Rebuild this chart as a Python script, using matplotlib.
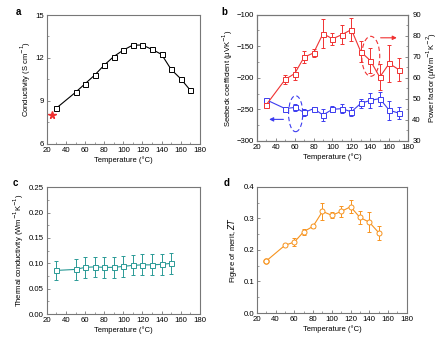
import matplotlib
matplotlib.use('Agg')
import matplotlib.pyplot as plt
from matplotlib.patches import Ellipse
from matplotlib.ticker import AutoMinorLocator

plt.rcParams['font.family'] = ['Liberation Sans', 'DejaVu Sans']
plt.rcParams['font.size'] = 5.6
plt.rcParams['axes.labelsize'] = 5.5
plt.rcParams['axes.edgecolor'] = '#777777'
plt.rcParams['axes.linewidth'] = 0.8
plt.rcParams['xtick.color'] = '#777777'
plt.rcParams['ytick.color'] = '#777777'
plt.rcParams['xtick.labelcolor'] = 'black'
plt.rcParams['ytick.labelcolor'] = 'black'

temp = [30, 50, 60, 70, 80, 90, 100, 110, 120, 130, 140, 150, 160, 170]
temp_short = temp[:12]

# (a) electrical conductivity
sigma = [8.5, 9.6, 10.2, 10.8, 11.5, 12.1, 12.55, 12.9, 12.9, 12.6, 12.25, 11.2, 10.55, 9.75]
star_t, star_sigma = 25, 8.0

# (b) power factor (right axis) and Seebeck (left axis)
pf = [47.2, 59.2, 62.0, 69.8, 71.8, 81.0, 78.5, 80.5, 82.9, 72.3, 68.2, 60.3, 66.8, 63.9]
pf_err = [0.6, 2.0, 3.0, 3.0, 2.0, 6.7, 3.0, 4.5, 5.5, 5.0, 6.0, 6.3, 8.8, 5.4]
seebeck = [-235, -249, -247, -255, -249, -259, -250, -249, -254, -240.5, -236, -233, -251.5, -256]
seebeck_err = [2, 3, 5, 5, 3, 10, 5, 7, 7, 7, 12, 11, 15, 10]

# (c) thermal conductivity
kappa = [0.086, 0.088, 0.092, 0.093, 0.092, 0.092, 0.094, 0.096, 0.097, 0.097, 0.098, 0.100]
kappa_err = [0.019, 0.020, 0.020, 0.020, 0.020, 0.020, 0.020, 0.020, 0.021, 0.021, 0.021, 0.021]

# (d) figure of merit
zt = [0.165, 0.215, 0.225, 0.258, 0.275, 0.322, 0.310, 0.322, 0.337, 0.303, 0.288, 0.255]
zt_err = [0.0, 0.004, 0.012, 0.010, 0.005, 0.027, 0.010, 0.018, 0.021, 0.020, 0.031, 0.022]

red = '#f03232'
blue = '#3c3cf0'
teal = '#2a9a96'
orange = '#f7931e'


def style(ax, ylim, yticks):
    ax.set_xlim(20, 180)
    ax.set_xticks(range(20, 181, 20))
    ax.set_ylim(*ylim)
    ax.set_yticks(yticks)
    ax.xaxis.set_minor_locator(AutoMinorLocator(2))
    ax.yaxis.set_minor_locator(AutoMinorLocator(2))
    ax.tick_params(which='both', direction='in', pad=2)
    ax.tick_params(which='major', length=2.5, width=0.6)
    ax.tick_params(which='minor', length=1.5, width=0.5)
    ax.set_xlabel('Temperature (°C)', labelpad=2)


fig = plt.figure(figsize=(4.46, 3.41), dpi=100)

ax_a = fig.add_axes([0.105, 0.578, 0.343, 0.378])
ax_b = fig.add_axes([0.576, 0.587, 0.339, 0.370])
ax_c = fig.add_axes([0.105, 0.079, 0.343, 0.372])
ax_d = fig.add_axes([0.576, 0.082, 0.336, 0.370])

# a
ax_a.plot(temp, sigma, '-s', color='black', lw=0.8, ms=3.6, mfc='white', mew=0.7)
ax_a.plot(star_t, star_sigma, '*', color=red, ms=5.5)
style(ax_a, (6, 15), [6, 9, 12, 15])
ax_a.set_ylabel('Conductivity (S cm$^{-1}$)', labelpad=2)

# b
ax_b.errorbar(temp, seebeck, yerr=seebeck_err, fmt='-s', color=blue, lw=0.8, ms=3.6,
              mfc='white', mew=0.7, elinewidth=0.7, capsize=1.5, capthick=0.7)
style(ax_b, (-300, -100), [-300, -250, -200, -150, -100])
ax_b.set_yticklabels(['\u2212300', '\u2212250', '\u2212200', '\u2212150', '\u2212100'])
ax_b.set_ylabel('Seebeck coefficient (\u03bcVK$^{-1}$)', labelpad=1)
ax_b.add_patch(Ellipse((61, -257), 15, 57, fill=False, ls=(0, (4, 2.5)), color=blue, lw=0.8))
ax_b.annotate('', xy=(30, -266), xytext=(51, -266),
              arrowprops=dict(arrowstyle='-|>', color=blue, lw=0.8, mutation_scale=6))

ax_b2 = ax_b.twinx()
ax_b2.errorbar(temp, pf, yerr=pf_err, fmt='-s', color=red, lw=0.8, ms=3.6,
               mfc='white', mew=0.7, elinewidth=0.7, capsize=1.5, capthick=0.7)
ax_b2.set_ylim(30, 90)
ax_b2.set_yticks(range(30, 91, 10))
ax_b2.yaxis.set_minor_locator(AutoMinorLocator(2))
ax_b2.tick_params(which='both', direction='in', pad=3)
ax_b2.tick_params(which='major', length=2.5, width=0.6)
ax_b2.tick_params(which='minor', length=1.5, width=0.5)
ax_b2.set_ylabel('Power factor (\u03bcWm$^{-1}$K$^{-2}$)', labelpad=3)
ax_b2.add_patch(Ellipse((140.5, 70.2), 19, 19, angle=0, fill=False, ls=(0, (4, 2.5)),
                        color=red, lw=0.8))
ax_b2.annotate('', xy=(171, 79), xytext=(148, 79),
               arrowprops=dict(arrowstyle='-|>', color=red, lw=0.8, mutation_scale=6))

# c
ax_c.errorbar(temp_short, kappa, yerr=kappa_err, fmt='-s', color=teal, lw=0.8, ms=3.6,
              mfc='white', mew=0.7, elinewidth=0.7, capsize=1.5, capthick=0.7)
style(ax_c, (0, 0.25), [0, 0.05, 0.10, 0.15, 0.20, 0.25])
ax_c.set_yticklabels(['0.00', '0.05', '0.10', '0.15', '0.20', '0.25'])
ax_c.set_ylabel('Thermal conductivity (Wm$^{-1}$K$^{-1}$)', labelpad=2)

# d
ax_d.errorbar(temp_short, zt, yerr=zt_err, fmt='-o', color=orange, lw=0.8, ms=3.6,
              mfc='white', mew=0.7, elinewidth=0.7, capsize=1.5, capthick=0.7)
ax_d.plot(temp_short[0], zt[0], 'o', color=orange, ms=3.6)
style(ax_d, (0, 0.4), [0, 0.1, 0.2, 0.3, 0.4])
ax_d.set_yticklabels(['0.0', '0.1', '0.2', '0.3', '0.4'])
ax_d.set_ylabel('Figure of merit, $ZT$', labelpad=3)

for label, x, y in [('a', 16, 12), ('b', 221, 12), ('c', 13, 183), ('d', 224, 183)]:
    fig.text(x / 446, 1 - y / 341, label, fontsize=7, fontweight='bold', va='center', ha='left')

fig.savefig('out.png', dpi=100)
